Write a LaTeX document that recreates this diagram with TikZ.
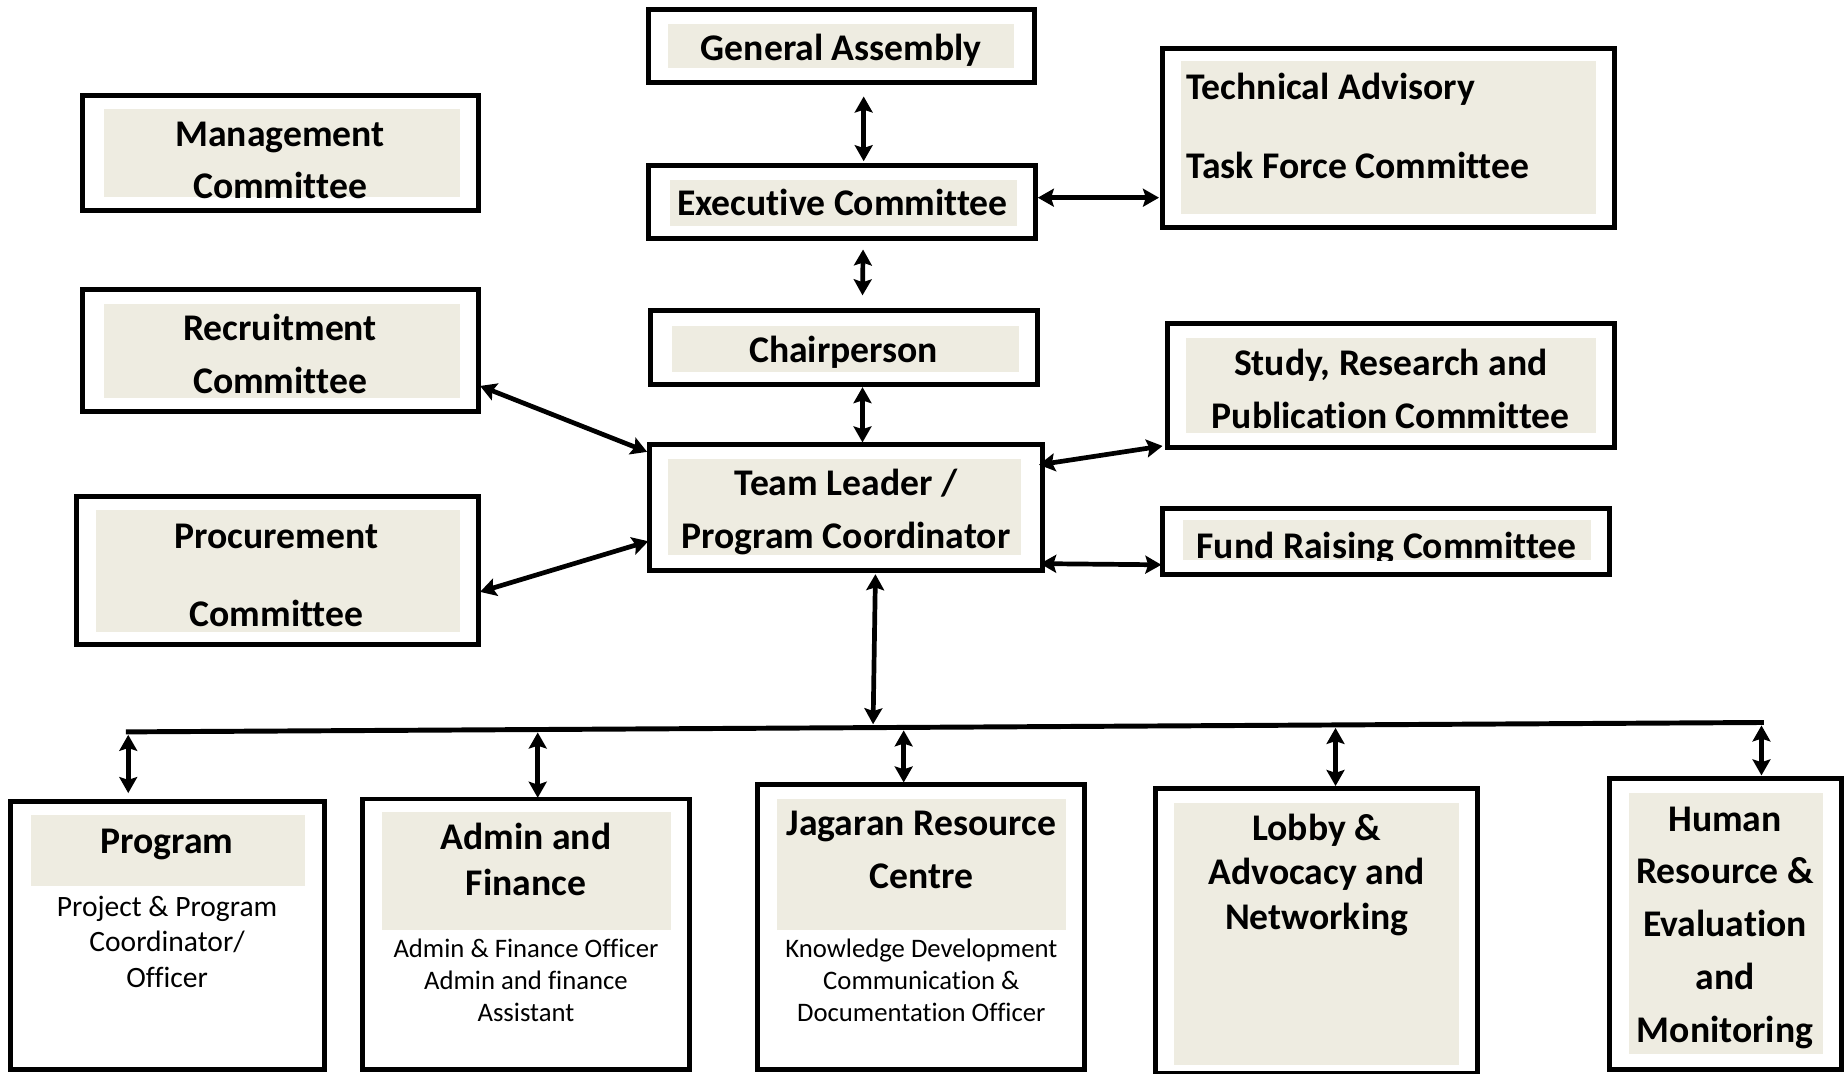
\documentclass[tikz,border=0pt]{standalone}
\usepackage{fontspec}
\setmainfont{Carlito}[Ligatures=NoCommon]
\usetikzlibrary{arrows.meta,calc,fit}
\definecolor{paper}{HTML}{EEECE1}
\begin{document}
\begin{tikzpicture}[x=0.5pt,y=-0.5pt,
  obox/.style={draw=black, line width=2.1pt, inner sep=0pt, outer sep=0pt},
  pane/.style={fill=paper},
  ttl/.style={font=\bfseries\fontsize{16}{#1}\selectfont, align=center, inner sep=0pt},
  ttl/.default=22.5,
  sub/.style 2 args={font=\fontsize{#1}{#2}\selectfont, align=center, inner sep=0pt},
  tip/.tip={Stealth[length=6.8pt,width=7.6pt,inset=1.2pt]},
  dbl/.style={tip-tip, line width=2pt},
  bus/.style={line width=2.1pt}]
\useasboundingbox (0,0) rectangle (1568,912);

% ---------- panes (light fill) ----------
\fill[pane] (568,20) rectangle (862,58);
\fill[pane] (569,153) rectangle (864,192);
\fill[pane] (571,277) rectangle (866,316);
\fill[pane] (568,390) rectangle (868,472);
\fill[pane] (88,93) rectangle (391,167);
\fill[pane] (88,258) rectangle (391,338);
\fill[pane] (82,433) rectangle (391,537);
\fill[pane] (1004,52) rectangle (1356,182);
\fill[pane] (1008,287) rectangle (1356,368);
\fill[pane] (1005,442) rectangle (1352,476);
\fill[pane] (26,693) rectangle (259,753);
\fill[pane] (325,690) rectangle (570,790);
\fill[pane] (660,679) rectangle (906,790);
\fill[pane] (998,682) rectangle (1240,905);
\fill[pane] (1384,674) rectangle (1549,896);

% ---------- outer boxes ----------
\node[obox, fit={(551,8) (879,70)}] (ga) {};
\node[obox, fit={(551,141) (880,203)}] (ec) {};
\node[obox, fit={(553,264) (882,327)}] (ch) {};
\node[obox, fit={(552,378) (886,485)}] (tl) {};
\node[obox, fit={(70,81) (407,179)}] (mg) {};
\node[obox, fit={(70,246) (407,350)}] (rc) {};
\node[obox, fit={(65,422) (407,548)}] (pc) {};
\node[obox, fit={(988,41) (1372,193)}] (ta) {};
\node[obox, fit={(992,275) (1372,380)}] (st) {};
\node[obox, fit={(988,432) (1368,488)}] (fr) {};
\node[obox, fit={(9,681) (276,909)}] (pr) {};
\node[obox, fit={(308,679) (586,909)}] (ad) {};
\node[obox, fit={(644,667) (922,909)}] (jg) {};
\node[obox, fit={(982,670) (1256,912)}] (lb) {};
\node[obox, fit={(1368,662) (1565,909)}] (hr) {};

% ---------- texts ----------
\node[ttl] (gat) at (715,42) {\strut General Assembly};
\node[ttl] (ect) at (716,174) {\strut Executive Committee};
\node[ttl] (cht) at (717,299) {\strut Chairperson};
\node[ttl] (tlt) at (719,435) {\strut Team Leader /\\\strut Program Coordinator};
\node[ttl=22] (mgt) at (238,137.5) {\strut Management\\\strut Committee};
\node[ttl] (rct) at (238,302.5) {\strut Recruitment\\\strut Committee};
\node[ttl=33] (pct) at (235,486) {\strut Procurement\\\strut Committee};
\node[ttl=33.5, align=left, anchor=west] (tat) at (1008,104.5) {\strut Technical Advisory\\\strut Task Force Committee};
\node[ttl] (stt) at (1182,333) {\strut Study, Research and\\\strut Publication Committee};
\begin{scope}
  \clip (1005,442) rectangle (1352,476);
  \node[ttl, anchor=base] (frt) at (1178.5,474.5) {Fund Raising Committee};
\end{scope}
\node[ttl] (prt) at (142,716) {\strut Program};
\node[sub={12.55}{15}] (prs) at (142,803) {\strut Project \& Program\\\strut Coordinator/\\\strut Officer};
\node[ttl=19.5] (adt) at (447,734) {\strut Admin and\\\strut Finance};
\node[sub={11.35}{13.5}] (ads) at (447,835.5) {\strut Admin \& Finance Officer\\\strut Admin and finance\\\strut Assistant};
\node[ttl] (jgt) at (783,723.5) {\strut Jagaran Resource\\\strut Centre};
\node[sub={11.35}{13.75}] (jgs) at (783,835.5) {\strut Knowledge Development\\\strut Communication \&\\\strut Documentation Officer};
\node[ttl=19] (lbt) at (1119,744.5) {\strut Lobby \&\\\strut Advocacy and\\\strut Networking};
\node[ttl=22.4] (hrt) at (1466,787) {\strut Human\\\strut Resource \&\\\strut Evaluation\\\strut and\\\strut Monitoring};

% ---------- connectors ----------
\draw[dbl] ($(ga.south)+(19,12)$) -- ($(ec.north)+(18.5,-4)$);
\draw[dbl] ($(ec.east)+(2,-4)$) -- ($(ta.west)+(-3,51)$);
\draw[dbl] ($(ec.south)+(18,9)$) -- ($(ch.north)+(15.5,-13)$);
\draw[dbl] ($(ch.south)+(15.5,2)$) -- ($(tl.north)+(14,-2)$);
\draw[dbl] ($(rc.east)+(1,30)$) -- ($(tl.west)+(-2,-47.5)$);
\draw[dbl] ($(pc.east)+(1,18)$) -- ($(tl.west)+(-1,28.5)$);
\draw[dbl] ($(tl.east)+(-3,-36.5)$) -- ($(st.west)+(-4,51.5)$);
\draw[dbl] ($(tl.east)+(-2,47.5)$) -- ($(fr.west)+(-1,20)$);

% bus
\coordinate (busL) at (107,622);
\coordinate (busR) at (1499,614);
\coordinate (bm) at (742,615.5);
\coordinate (b1) at (109,624.5);
\coordinate (b2) at (457,622.5);
\coordinate (b3) at (768,620.7);
\coordinate (b4) at (1135,618.6);
\coordinate (b5) at (1497,616.5);
\draw[bus] (busL) -- (busR);
\draw[dbl] ($(tl.south)+(25,3)$) -- (bm);
\draw[dbl] (b1) -- ($(pr.north)+(-33.5,-7)$);
\draw[dbl] (b2) -- ($(ad.north)+(10,-1)$);
\draw[dbl] (b3) -- ($(jg.north)+(-15,-2)$);
\draw[dbl] (b4) -- ($(lb.north)+(16,-2)$);
\draw[dbl] (b5) -- ($(hr.north)+(30.5,-3)$);
\end{tikzpicture}
\end{document}
